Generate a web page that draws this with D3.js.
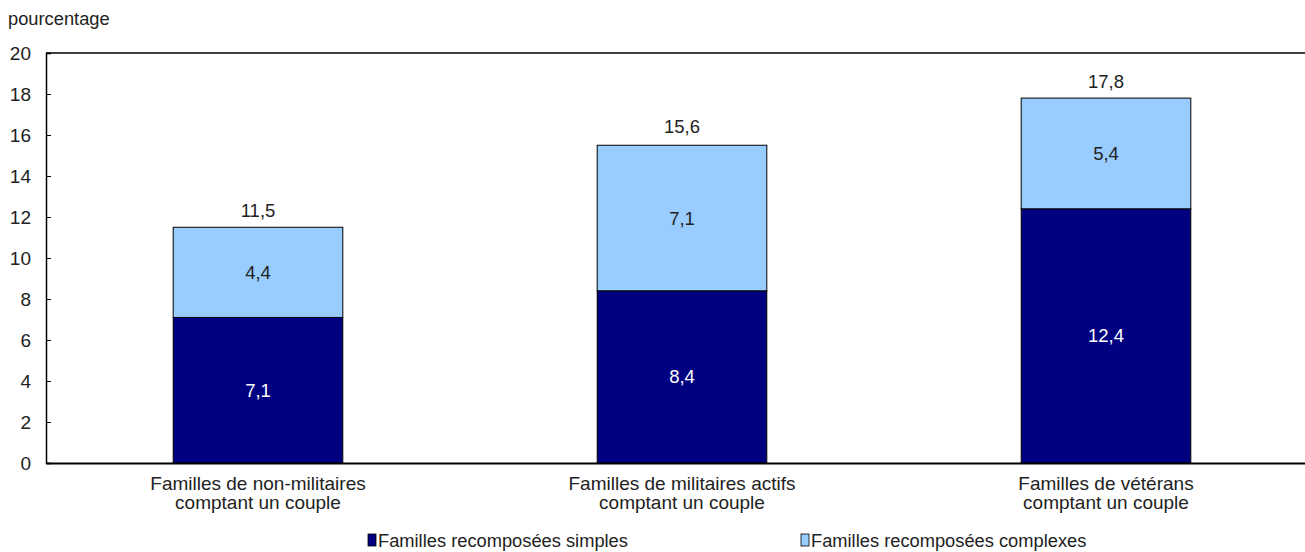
<!DOCTYPE html>
<html>
<head>
<meta charset="utf-8">
<script src="https://cdn.jsdelivr.net/npm/d3@7"></script>
<style>
  html, body { margin: 0; padding: 0; background: #fff; }
  svg { display: block; }
  text { font-family: "Liberation Sans Narrow", "Arial Narrow", "Liberation Sans", sans-serif; fill: #222; }
</style>
</head>
<body>
<svg id="chart" width="1305" height="552"></svg>
<script>
const categories = [
  ["Familles de non-militaires", "comptant un couple"],
  ["Familles de militaires actifs", "comptant un couple"],
  ["Familles de vétérans", "comptant un couple"]
];
const seriesNames = ["Familles recomposées simples", "Familles recomposées complexes"];
const simples = [7.1, 8.4, 12.4];
const complexes = [4.4, 7.1, 5.4];
const totals = [11.5, 15.6, 17.8];
const yTicks = [0, 2, 4, 6, 8, 10, 12, 14, 16, 18, 20];
const colors = ["#000080", "#99CCFF"];

const fmt = v => v.toFixed(1).replace(".", ",");

const svg = d3.select("#chart");
const plotLeft = 46, plotRight = 1318, plotTop = 53, plotBottom = 463;
const fs = 18.5;

const x = d3.scaleBand().domain(d3.range(categories.length)).range([plotLeft, plotRight]).paddingInner(0.6).paddingOuter(0.3);
const y = d3.scaleLinear().domain([0, 20]).range([plotBottom, plotTop]);

const rows = categories.map((c, i) => ({i, s: simples[i], c: complexes[i], t: totals[i]}));

const g = svg.append("g");
rows.forEach(r => {
  g.append("rect")
    .attr("x", x(r.i)).attr("width", x.bandwidth())
    .attr("y", y(r.s)).attr("height", y(0) - y(r.s))
    .attr("fill", colors[0]).attr("stroke", "#000").attr("stroke-width", 1);
  g.append("rect")
    .attr("x", x(r.i)).attr("width", x.bandwidth())
    .attr("y", y(r.s + r.c)).attr("height", y(r.s) - y(r.s + r.c))
    .attr("fill", colors[1]).attr("stroke", "#000").attr("stroke-width", 1);
  const cx = x(r.i) + x.bandwidth() / 2;
  g.append("text").attr("x", cx).attr("y", y(r.s / 2)).attr("dy", "0.35em")
    .attr("text-anchor", "middle").attr("font-size", fs).style("fill", "#fff").text(fmt(r.s));
  g.append("text").attr("x", cx).attr("y", y(r.s + r.c / 2)).attr("dy", "0.35em")
    .attr("text-anchor", "middle").attr("font-size", fs).text(fmt(r.c));
  g.append("text").attr("x", cx).attr("y", y(r.t) - 10)
    .attr("text-anchor", "middle").attr("font-size", fs).text(fmt(r.t));
});

svg.append("line").attr("x1", plotLeft).attr("x2", plotRight).attr("y1", plotTop).attr("y2", plotTop)
  .attr("stroke", "#000").attr("stroke-width", 1.5);

const yAxis = d3.axisRight(y).tickValues(yTicks).tickSize(5).tickFormat("");
const ya = svg.append("g").attr("transform", `translate(${plotLeft},0)`).call(yAxis);
ya.select(".domain").attr("stroke", "#000").attr("stroke-width", 1.5);
ya.selectAll(".tick line").attr("stroke", "#000");
yTicks.forEach(t => {
  svg.append("text").attr("x", 31).attr("y", y(t)).attr("dy", "0.35em")
    .attr("text-anchor", "end").attr("font-size", 19).text(t);
});

const xAxis = d3.axisBottom(x).tickSize(0).tickFormat("");
const xa = svg.append("g").attr("transform", `translate(0,${plotBottom})`).call(xAxis);
xa.select(".domain").attr("stroke", "#000").attr("stroke-width", 2);

categories.forEach((c, i) => {
  const cx = x(i) + x.bandwidth() / 2;
  const t = svg.append("text").attr("text-anchor", "middle").attr("font-size", 19);
  c.forEach((line, k) => {
    t.append("tspan").attr("x", cx).attr("y", 490 + k * 19).text(line);
  });
});

svg.append("text").attr("x", 8).attr("y", 25).attr("font-size", 18.3).text("pourcentage");

const legX = [368, 801];
seriesNames.forEach((n, i) => {
  svg.append("rect").attr("x", legX[i]).attr("y", 534).attr("width", 8).attr("height", 12)
    .attr("fill", colors[i]).attr("stroke", "#000").attr("stroke-width", 0.8);
  svg.append("text").attr("x", legX[i] + 10).attr("y", 547).attr("font-size", 18.3).text(n);
});
</script>
</body>
</html>
